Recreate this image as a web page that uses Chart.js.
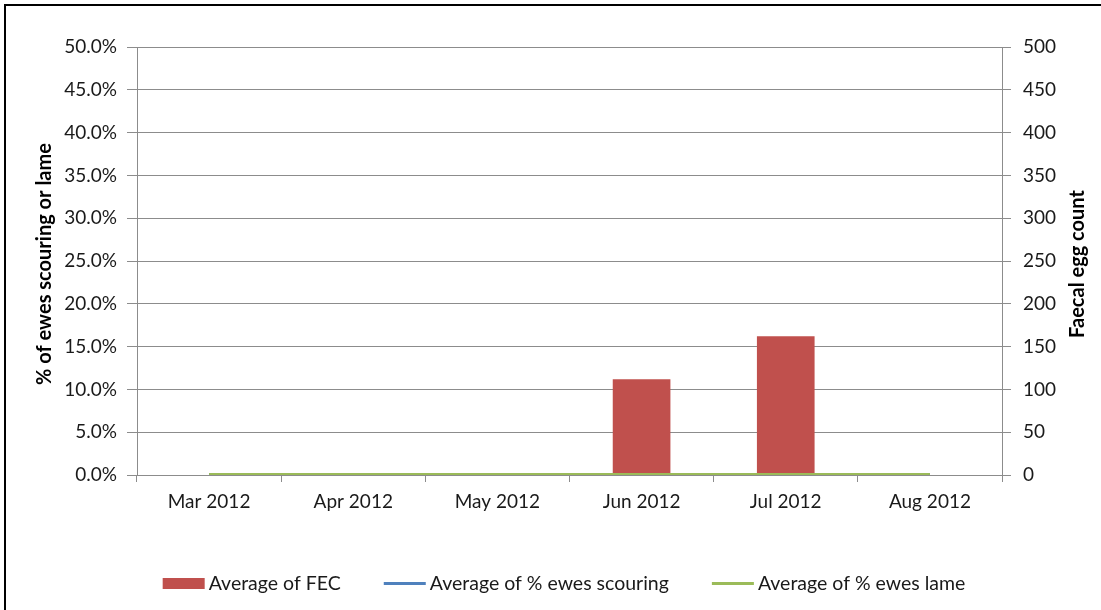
<!DOCTYPE html>
<html>
<head>
<meta charset="utf-8">
<script src="https://cdn.jsdelivr.net/npm/chart.js@4.4.0/dist/chart.umd.min.js"></script>
<style>
  html, body { margin: 0; padding: 0; background: #ffffff; }
  #wrap { position: relative; width: 1101px; height: 610px; }
</style>
</head>
<body>
<div id="wrap"><canvas id="chart" width="1101" height="610"></canvas></div>
<script>
// Monthly flock monitoring, 2012
const months = ['Mar 2012', 'Apr 2012', 'May 2012', 'Jun 2012', 'Jul 2012', 'Aug 2012'];
const avgFEC = [null, null, null, 112, 162, null];          // eggs per gram
const avgScouring = [0, 0, 0, 0, 0, 0];                      // fraction of ewes
const avgLame = [0, 0, 0, 0, 0, 0];                          // fraction of ewes

const leftAxisTitle = '% of ewes scouring or lame';
const rightAxisTitle = 'Faecal egg count';

const FONT = 'Lato, "Open Sans", sans-serif';
const TEXT = '#1a1a1a';
const GRID = '#8c8c8c';

// Frame lines plus axis titles that read bottom-to-top on both sides
const framePlugin = {
  id: 'frame',
  beforeDraw(chart) {
    const ctx = chart.ctx;
    ctx.save();
    ctx.fillStyle = '#ffffff';
    ctx.fillRect(0, 0, chart.width, chart.height);
    ctx.strokeStyle = '#000000';
    ctx.lineWidth = 2;
    ctx.beginPath();
    ctx.moveTo(4, 5); ctx.lineTo(chart.width, 5);
    ctx.moveTo(5, 4); ctx.lineTo(5, chart.height);
    ctx.stroke();
    ctx.restore();
  },
  afterDraw(chart) {
    const ctx = chart.ctx;
    const area = chart.chartArea;
    const midY = (area.top + area.bottom) / 2 + 3;
    ctx.save();
    ctx.fillStyle = '#000000';
    ctx.font = 'bold 20px ' + FONT;
    ctx.textAlign = 'center';
    ctx.textBaseline = 'middle';
    [[45, leftAxisTitle], [1078, rightAxisTitle]].forEach(([x, t]) => {
      ctx.save();
      ctx.translate(x, midY);
      ctx.rotate(-Math.PI / 2);
      ctx.fillText(t, 0, 0);
      ctx.restore();
    });
    ctx.restore();
  }
};

// Legend row under the chart: bar swatch or line sample, then label
const legendRow = {
  id: 'legendRow',
  afterDraw(chart) {
    const ctx = chart.ctx;
    const y = 583.5;
    const swatchW = 42, swatchGap = 4, itemGap = 43;
    ctx.save();
    ctx.font = '19.5px ' + FONT;
    ctx.textBaseline = 'middle';
    const items = chart.data.datasets.map(ds => ({
      ds, w: swatchW + swatchGap + ctx.measureText(ds.label).width
    }));
    const total = items.reduce((s, it) => s + it.w, 0) + itemGap * (items.length - 1);
    let x = 564 - total / 2;
    items.forEach(({ ds, w }) => {
      if (ds.type === 'bar') {
        ctx.fillStyle = ds.backgroundColor;
        ctx.fillRect(x, y - 5.5, swatchW, 11);
      } else {
        ctx.strokeStyle = ds.borderColor;
        ctx.lineWidth = 3;
        ctx.beginPath();
        ctx.moveTo(x, y); ctx.lineTo(x + swatchW, y);
        ctx.stroke();
      }
      ctx.fillStyle = TEXT;
      ctx.fillText(ds.label, x + swatchW + swatchGap, y);
      x += w + itemGap;
    });
    ctx.restore();
  }
};

new Chart(document.getElementById('chart'), {
  data: {
    labels: months,
    datasets: [
      {
        type: 'bar',
        label: 'Average of FEC',
        data: avgFEC,
        yAxisID: 'yRight',
        backgroundColor: '#C0504D',
        barPercentage: 0.4,
        categoryPercentage: 1.0,
        order: 3
      },
      {
        type: 'line',
        label: 'Average of % ewes scouring',
        data: avgScouring,
        yAxisID: 'yLeft',
        borderColor: '#4F81BD',
        backgroundColor: '#4F81BD',
        borderWidth: 4,
        pointRadius: 0,
        tension: 0,
        order: 2
      },
      {
        type: 'line',
        label: 'Average of % ewes lame',
        data: avgLame,
        yAxisID: 'yLeft',
        borderColor: '#9BBB59',
        backgroundColor: '#9BBB59',
        borderWidth: 4,
        pointRadius: 0,
        tension: 0,
        order: 1
      }
    ]
  },
  options: {
    responsive: false,
    devicePixelRatio: 1,
    animation: false,
    layout: { padding: { top: 47, left: 0, right: 0, bottom: 95 } },
    plugins: {
      legend: { display: false },
      tooltip: { enabled: false }
    },
    scales: {
      x: {
        offset: true,
        grid: { offset: true, drawOnChartArea: false, drawTicks: true, tickLength: 7, color: GRID },
        border: { display: true, color: GRID, width: 1 },
        ticks: { font: { family: FONT, size: 19 }, color: TEXT, padding: 8, maxRotation: 0 },
        afterFit(s) { s.height = 40; }
      },
      yLeft: {
        position: 'left',
        min: 0,
        max: 0.5,
        ticks: {
          stepSize: 0.05,
          font: { family: FONT, size: 19 },
          color: TEXT,
          padding: 10,
          callback: v => (v * 100).toFixed(1) + '%'
        },
        grid: { color: GRID, tickLength: 10, drawTicks: true },
        border: { display: true, color: GRID },
        afterFit(s) { s.width = 137; }
      },
      yRight: {
        position: 'right',
        min: 0,
        max: 500,
        ticks: {
          stepSize: 50,
          font: { family: FONT, size: 19 },
          color: TEXT,
          padding: 12
        },
        grid: { drawOnChartArea: false, color: GRID, tickLength: 9, drawTicks: true },
        border: { display: true, color: GRID },
        afterFit(s) { s.width = 99; }
      }
    }
  },
  plugins: [framePlugin, legendRow]
});
</script>
</body>
</html>
